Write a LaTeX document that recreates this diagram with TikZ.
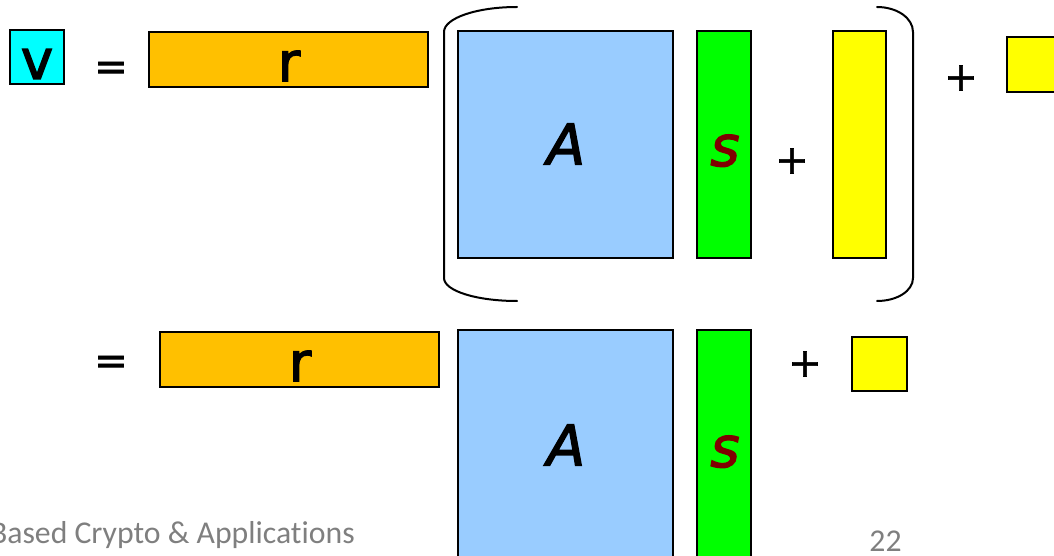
\documentclass[tikz,border=0pt]{standalone}
\usepackage{fontspec}
\setmainfont{Carlito}[Ligatures=CommonOff]
\newfontfamily\glyphfont[FakeBold=2.4]{DejaVu Sans}
\newfontfamily\opfont[FakeBold=1.6]{DejaVu Sans}

\definecolor{vcyan}{HTML}{00FFFF}
\definecolor{rorange}{HTML}{FFC000}
\definecolor{ablue}{HTML}{99CCFF}
\definecolor{sgreen}{HTML}{00FF00}
\definecolor{eyellow}{HTML}{FFFF00}
\definecolor{smaroon}{HTML}{800000}
\definecolor{footgray}{HTML}{7F7F7F}

\begin{document}
\begin{tikzpicture}[x=0.75pt,y=-0.75pt,
  cell/.style={draw=black, line width=1.2pt},
  sym/.style={font=\glyphfont\fontsize{41}{41}\selectfont, inner sep=0pt},
  slantsym/.style={font=\glyphfont\itshape\fontsize{42}{42}\selectfont, inner sep=0pt},
  op/.style={font=\opfont\fontsize{30}{30}\selectfont, inner sep=0pt},
  paren/.style={line width=1.5pt, line cap=round},
  foot/.style={font=\fontsize{23.8}{23.8}\selectfont, text=footgray, inner sep=0pt}]

\useasboundingbox (0,0) rectangle (1054,556);
\clip (0,0) rectangle (1054,556);

% first line: v = r ( A s + e ) + e'
\draw[cell, fill=vcyan] (10,30) rectangle (64,84);
\node[sym] (v) at (37,64) {v};
\node[op] (eqtop) at (111,71) {=};
\draw[cell, fill=rorange] (149,32) rectangle (428,87);
\node[sym] (rtop) at (289,66) {r};

\draw[paren] (517,7) .. controls (477,7) and (444,18) .. (444,32)
  -- (444,278) .. controls (444,291) and (477,301) .. (517,301);
\draw[paren] (877,7) .. controls (897,7) and (913,18) .. (913,32)
  -- (913,278) .. controls (913,291) and (897,301) .. (877,301);

\draw[cell, fill=ablue] (458,31) rectangle (673,258);
\node[slantsym] (Atop) at (566,144) {A};
\draw[cell, fill=sgreen] (697,31) rectangle (751,258);
\node[slantsym, text=smaroon, anchor=base] (stop) at (725,166) {s};
\node[op] (plusin) at (792,161) {+};
\draw[cell, fill=eyellow] (833,31) rectangle (886,258);
\node[op] (plustop) at (961,78) {+};
\draw[cell, fill=eyellow] (1007,37) rectangle (1062,92);

% second line: = r A s + e''
\node[op] (eqbot) at (111,365) {=};
\draw[cell, fill=rorange] (160,332) rectangle (439,387);
\node[sym] (rbot) at (300,366) {r};
\draw[cell, fill=ablue] (458,330) rectangle (673,600);
\node[slantsym] (Abot) at (566,445) {A};
\draw[cell, fill=sgreen] (697,330) rectangle (751,600);
\node[slantsym, text=smaroon, anchor=base] (sbot) at (725,467) {s};
\node[op] (plusbot) at (805,364) {+};
\draw[cell, fill=eyellow] (852,337) rectangle (907,391);

% footer
\node[foot, anchor=base east] (title) at (355,543) {Based Crypto \& Applications};
\node[foot, anchor=base] (page) at (885.5,551) {22};
\end{tikzpicture}
\end{document}
